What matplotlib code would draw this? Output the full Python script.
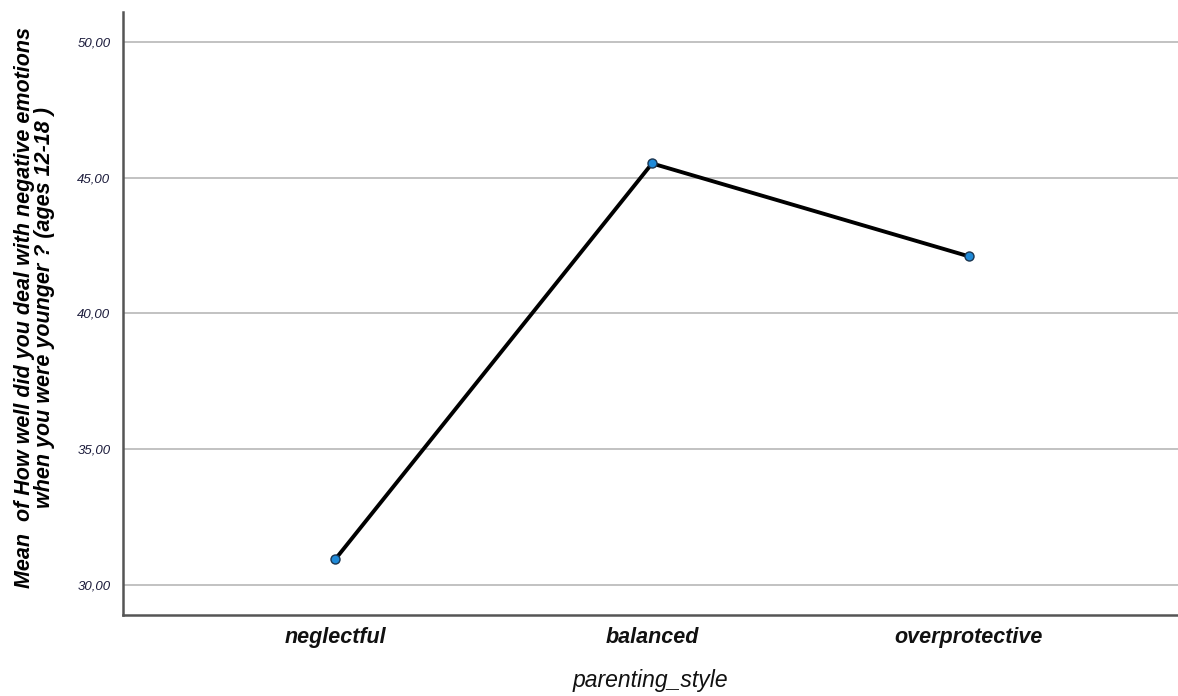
import matplotlib
matplotlib.use("Agg")
import matplotlib.pyplot as plt

categories = ["neglectful", "balanced", "overprotective"]
means = [30.95, 45.52, 42.10]
yticks = [30, 35, 40, 45, 50]


def main():
    plt.rcParams['font.family'] = ['Liberation Sans', 'DejaVu Sans']
    fig = plt.figure(figsize=(11.78, 6.96), dpi=100)
    ax = fig.add_axes([0.1044, 0.1164, 0.8956, 0.8666])

    x = list(range(len(categories)))
    ax.plot(x, means, '-', color='black', lw=2.8, zorder=3)
    ax.plot(x, means, 'o', ms=6.5, mfc='#1f8ad8', mec='#1a3550', mew=1.0, zorder=4)

    ax.set_xlim(-0.67, 2.66)
    ax.set_ylim(28.9, 51.1)
    ax.set_yticks(yticks)
    ax.set_yticklabels([f"{v:.2f}".replace('.', ',') for v in yticks],
                       fontsize=9.5, style='italic', color='#1a1a3a')
    ax.set_xticks(x)
    ax.set_xticklabels(categories, fontsize=15.5, style='italic', fontweight='bold',
                       color='#111111')
    ax.tick_params(axis='both', length=0)
    ax.tick_params(axis='y', pad=9)
    ax.tick_params(axis='x', pad=9)

    ax.yaxis.grid(True, color='#b8b8b8', lw=1.2)
    ax.set_axisbelow(True)
    for s in ['top', 'right']:
        ax.spines[s].set_visible(False)
    for s in ['left', 'bottom']:
        ax.spines[s].set_color('#555555')
        ax.spines[s].set_linewidth(1.8)

    ax.set_xlabel("parenting_style", fontsize=16.5, style='italic', labelpad=15,
                  color='#111111')
    ax.set_ylabel("Mean  of How well did you deal with negative emotions\n"
                  "when you were younger ? (ages 12-18 )",
                  fontsize=15.5, style='italic', fontweight='bold',
                  linespacing=0.95)
    ax.yaxis.set_label_coords(-0.064, 0.51)

    fig.savefig("out.png", dpi=100)
    plt.close(fig)


if __name__ == "__main__":
    main()
